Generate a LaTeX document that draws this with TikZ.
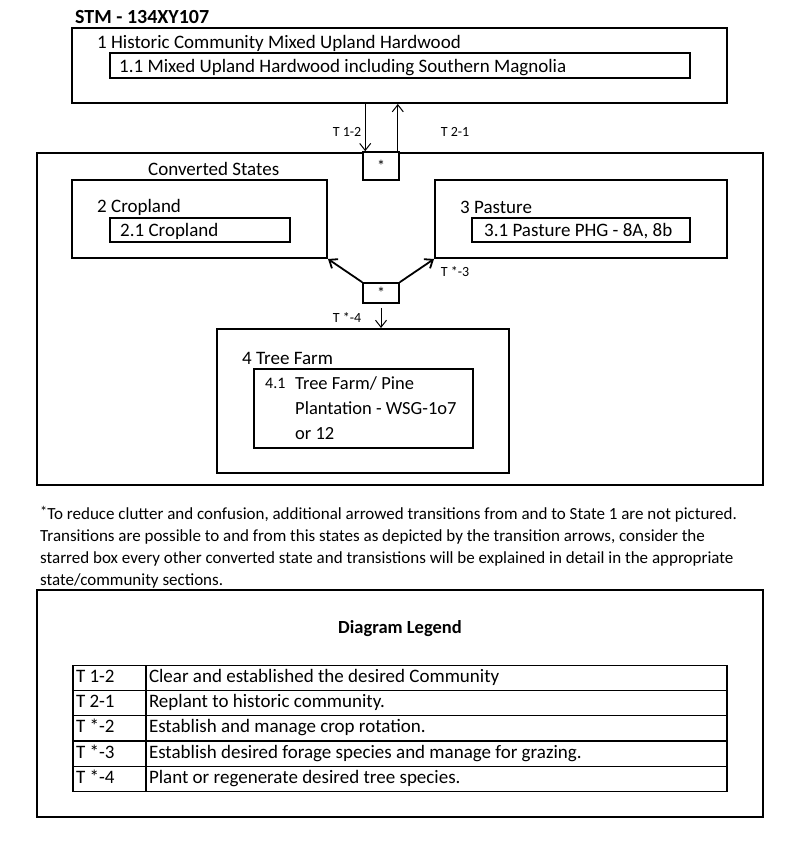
\documentclass[tikz,border=0pt]{standalone}
\usepackage{fontspec}
\setmainfont{Carlito}
\usetikzlibrary{arrows.meta}
\tikzset{
  statebox/.style={draw,line width=2pt,inner sep=0pt},
  phasebox/.style={draw,line width=1.2pt,inner sep=0pt},
  starbox/.style={draw,fill=white,line width=1.6pt,inner sep=0pt,font=\fontsize{16}{18}\selectfont},
  lbl/.style={anchor=west,inner sep=0pt,font=\fontsize{19}{22}\selectfont},
  tlbl/.style={inner sep=0pt,font=\fontsize{14}{16}\selectfont},
  trans/.style={-{Straight Barb[length=7pt,width=11pt]},line width=1pt},
}
\begin{document}
\begin{tikzpicture}[x=1pt,y=-1pt]
  \useasboundingbox (0,0) rectangle (800,843);

  \node[anchor=west,inner sep=0pt,font=\bfseries\fontsize{20}{24}\selectfont] (title) at (75,17) {STM - 134XY107};

  \node[statebox,minimum width=655pt,minimum height=75pt] (1) at (399.5,65.5) {};
  \node[phasebox,minimum width=580pt,minimum height=25pt] (11) at (400,65.5) {};
  \node[lbl] (l1) at (97,43) {1 Historic Community Mixed Upland Hardwood};
  \node[lbl] (l11) at (119,67.5) {1.1 Mixed Upland Hardwood including Southern Magnolia};

  \node[statebox,minimum width=726pt,minimum height=332pt] (cs) at (400,319) {};
  \node[lbl] (lcs) at (148,169) {Converted States};
  \node[starbox,minimum width=36pt,minimum height=28pt] (s1) at (381,166) {*};

  \node[statebox,minimum width=255pt,minimum height=78pt] (2) at (199.5,219) {};
  \node[phasebox,minimum width=180pt,minimum height=24pt] (21) at (200,230) {};
  \node[lbl] (l2) at (97,207) {2 Cropland};
  \node[lbl] (l21) at (120,231.5) {2.1 Cropland};

  \node[statebox,minimum width=292pt,minimum height=78pt] (3) at (581,219) {};
  \node[phasebox,minimum width=218pt,minimum height=24pt] (31) at (581,230) {};
  \node[lbl] (l3) at (460,207) {3 Pasture};
  \node[lbl] (l31) at (484,231.5) {3.1 Pasture PHG - 8A, 8b};

  \node[starbox,minimum width=36pt,minimum height=20pt] (s2) at (381,293) {*};

  \node[statebox,minimum width=292pt,minimum height=144pt] (4) at (363,401) {};
  \node[phasebox,minimum width=219pt,minimum height=79pt] (41) at (363.5,408.5) {};
  \node[lbl] (l4) at (242,358) {4 Tree Farm};
  \node[lbl,font=\fontsize{16}{18}\selectfont] (l41n) at (265,383) {4.1};
  \node[lbl,anchor=north west,align=left,font=\fontsize{18.5}{25}\selectfont] (l41) at (295,376) {Tree Farm/ Pine\\Plantation - WSG-1o7\\or 12};

  \draw[trans] ([xshift=3pt]s1.north west |- 1.south) -- ([xshift=3pt]s1.north west);
  \draw[trans] ([xshift=-2pt]s1.north east) -- ([xshift=-2pt]s1.north east |- 1.south);
  \draw[trans,line width=1.8pt] (s2.north west) -- (2.south east);
  \draw[trans,line width=1.8pt] (s2.north east) -- (3.south west);
  \draw[trans,shorten <=4pt] (s2.south) -- (s2.south |- 4.north);

  \node[tlbl] (t12) at (347,132) {T 1-2};
  \node[tlbl] (t21) at (455,132) {T 2-1};
  \node[tlbl] (tx3) at (455,272) {T *-3};
  \node[tlbl] (tx4) at (347,318) {T *-4};

  \node[anchor=north west,inner sep=0pt,align=left,font=\fontsize{17}{22}\selectfont] (note) at (40,506)
    {\raisebox{3pt}{\Large *}To reduce clutter and confusion, additional arrowed transitions from and to State 1 are not pictured.\\
     Transitions are possible to and from this states as depicted by the transition arrows, consider the\\
     starred box every other converted state and transistions will be explained in detail in the appropriate\\
     state/community sections.};

  \node[statebox,minimum width=726pt,minimum height=227pt] (leg) at (400,703.5) {};
  \node[inner sep=0pt,font=\bfseries\fontsize{18.5}{22}\selectfont] (legt) at (400,629) {Diagram Legend};

  \begin{scope}[every node/.style={draw,line width=1.2pt,inner xsep=3pt,inner ysep=0pt,minimum height=25.2pt,text height=13.5pt,text depth=4.5pt,align=flush left,font=\fontsize{19}{22}\selectfont}]
    \node[text width=67pt] (c1) at (109.5,678) {T 1-2};
    \node[text width=575pt] (d1) at (436.5,678) {Clear and established the desired Community};
    \node[text width=67pt] (c2) at (109.5,703.2) {T 2-1};
    \node[text width=575pt] (d2) at (436.5,703.2) {Replant to historic community.};
    \node[text width=67pt] (c3) at (109.5,728.4) {T *-2};
    \node[text width=575pt] (d3) at (436.5,728.4) {Establish and manage crop rotation.};
    \node[text width=67pt] (c4) at (109.5,753.6) {T *-3};
    \node[text width=575pt] (d4) at (436.5,753.6) {Establish desired forage species and manage for grazing.};
    \node[text width=67pt] (c5) at (109.5,778.8) {T *-4};
    \node[text width=575pt] (d5) at (436.5,778.8) {Plant or regenerate desired tree species.};
  \end{scope}

\end{tikzpicture}
\end{document}
